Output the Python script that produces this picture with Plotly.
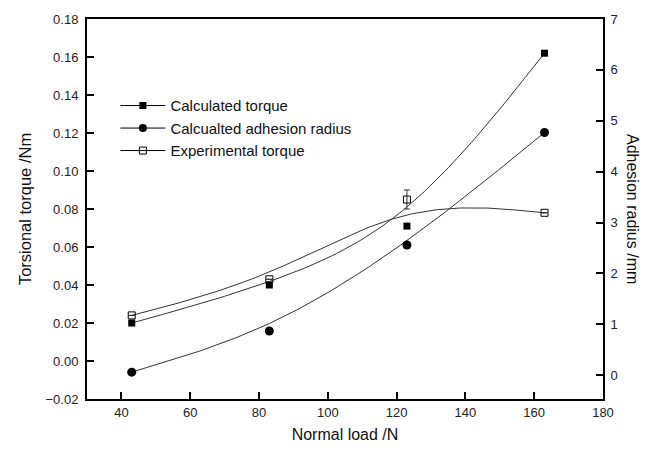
import numpy as np
import plotly.graph_objects as go

# ---- data ----
normal_load = [43, 83, 123, 163]
calc_torque = [0.020, 0.040, 0.071, 0.162]
calc_radius = [0.06, 0.87, 2.56, 4.77]
exp_torque = [0.024, 0.043, 0.085, 0.078]
exp_torque_err = [0, 0, 0.005, 0]

series_names = ["Calculated torque", "Calcualted adhesion radius", "Experimental torque"]

x_ticks = [40, 60, 80, 100, 120, 140, 160, 180]
y_ticks = [-0.02, 0.00, 0.02, 0.04, 0.06, 0.08, 0.10, 0.12, 0.14, 0.16, 0.18]
y2_ticks = [0, 1, 2, 3, 4, 5, 6, 7]


def bspline(xs, ys, n=40):
    """Uniform cubic B-spline (Origin style) with clamped ends, using data as control points."""
    px = [xs[0]] * 2 + list(xs) + [xs[-1]] * 2
    py = [ys[0]] * 2 + list(ys) + [ys[-1]] * 2
    ox, oy = [], []
    t = np.linspace(0, 1, n)
    b0 = (1 - t) ** 3 / 6
    b1 = (3 * t ** 3 - 6 * t ** 2 + 4) / 6
    b2 = (-3 * t ** 3 + 3 * t ** 2 + 3 * t + 1) / 6
    b3 = t ** 3 / 6
    for i in range(len(px) - 3):
        ox.extend(b0 * px[i] + b1 * px[i + 1] + b2 * px[i + 2] + b3 * px[i + 3])
        oy.extend(b0 * py[i] + b1 * py[i + 1] + b2 * py[i + 2] + b3 * py[i + 3])
    return ox, oy


FONT = "Liberation Sans, Arial, sans-serif"
LINE = dict(color="#333333", width=1)

fig = go.Figure()

# smoothed connection lines
for ys, axis in [(calc_torque, "y"), (calc_radius, "y2"), (exp_torque, "y")]:
    cx, cy = bspline(normal_load, ys)
    fig.add_trace(go.Scatter(x=cx, y=cy, mode="lines", line=LINE, yaxis=axis,
                             showlegend=False, hoverinfo="skip"))

# markers
fig.add_trace(go.Scatter(x=normal_load, y=calc_torque, mode="markers", showlegend=False,
                         marker=dict(symbol="square", size=7, color="black")))
fig.add_trace(go.Scatter(x=normal_load, y=calc_radius, mode="markers", yaxis="y2", showlegend=False,
                         marker=dict(symbol="circle", size=9, color="black")))
fig.add_trace(go.Scatter(x=normal_load, y=exp_torque, mode="markers", showlegend=False,
                         error_y=dict(type="data", array=exp_torque_err, visible=True,
                                      color="#333333", thickness=1, width=3),
                         marker=dict(symbol="square-open", size=7, color="black",
                                     line=dict(width=1, color="black"))))

# legend entries
legend_markers = [dict(symbol="square", size=7, color="black"),
                  dict(symbol="circle", size=8, color="black"),
                  dict(symbol="square-open", size=7, color="black", line=dict(width=1, color="black"))]
for name, mk in zip(series_names, legend_markers):
    fig.add_trace(go.Scatter(x=[None], y=[None], mode="lines+markers", name=name,
                             line=dict(color="black", width=1), marker=mk))

axis_common = dict(showline=True, linecolor="black", linewidth=2, ticks="inside",
                   ticklen=7, tickwidth=2, tickcolor="black", showgrid=False, zeroline=False,
                   tickfont=dict(family=FONT, size=13, color="#222222"))

fig.update_layout(
    width=645, height=453,
    margin=dict(l=87, r=42, t=15, b=54),
    paper_bgcolor="white", plot_bgcolor="white",
    font=dict(family=FONT, color="#111111"),
    xaxis=dict(range=[30, 180], tickvals=x_ticks, mirror=True,
               title=dict(text="Normal load /N", font=dict(family=FONT, size=16), standoff=10),
               **axis_common),
    yaxis=dict(range=[-0.02, 0.18], tickvals=y_ticks, tickformat=".2f", ticklabelstandoff=4,
               title=dict(text="Torsional torque /Nm", font=dict(family=FONT, size=16.5), standoff=10),
               **axis_common),
    yaxis2=dict(range=[-0.467, 7], tickvals=y2_ticks, overlaying="y", side="right",
                ticklabelstandoff=3, **axis_common),
    legend=dict(x=0.055, y=0.815, xanchor="left", yanchor="top", bgcolor="rgba(0,0,0,0)",
                itemwidth=45,
                font=dict(family=FONT, size=15, color="#111111"), tracegroupgap=0),
    annotations=[dict(text="Adhesion radius /mm", textangle=90, xref="paper", yref="paper",
                      x=1.0, xshift=30, y=0.5, showarrow=False, xanchor="center", yanchor="middle",
                      font=dict(family=FONT, size=16, color="#111111"))],
)

fig.write_html("out.html")
